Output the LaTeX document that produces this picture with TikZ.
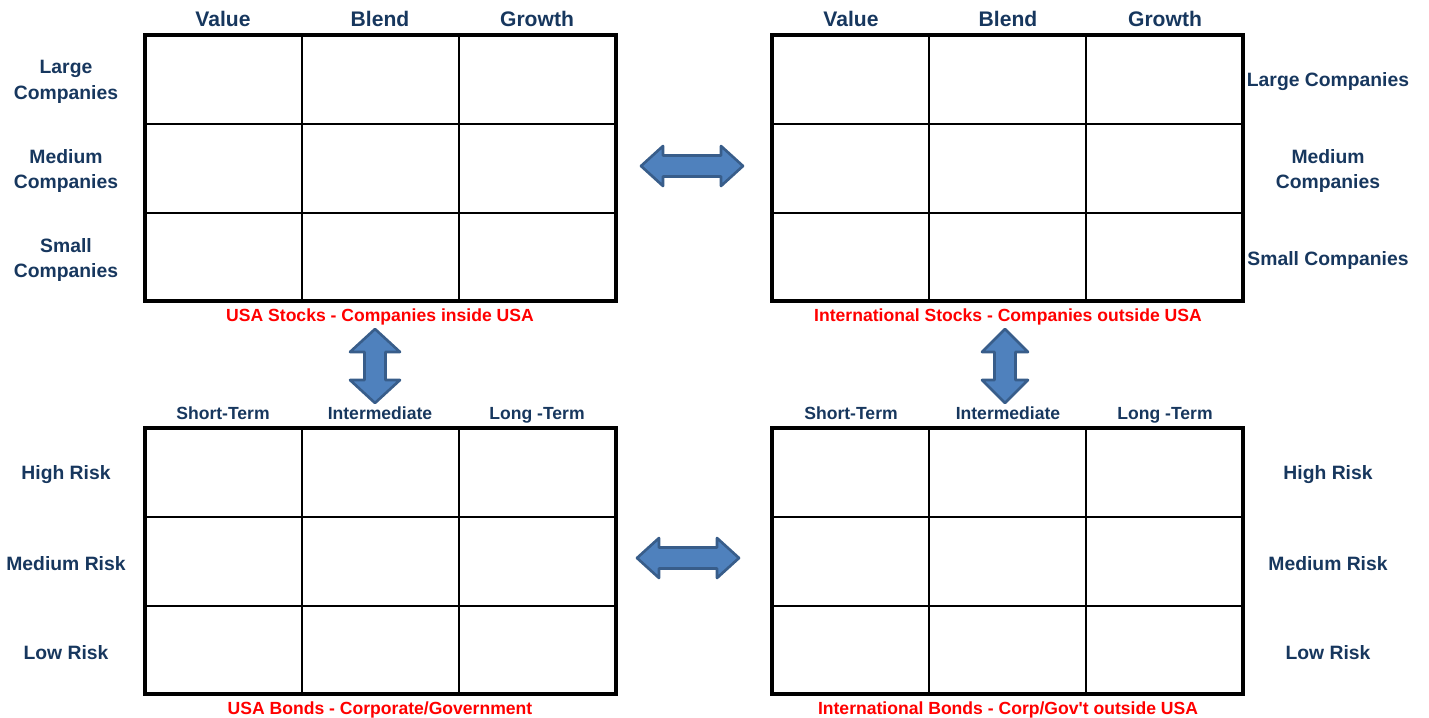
\documentclass[tikz,border=0pt]{standalone}
\usepackage{fontspec}
\setmainfont{Liberation Sans}

\definecolor{labelblue}{RGB}{23,55,94}
\definecolor{arrowfill}{RGB}{79,129,189}
\definecolor{arrowedge}{RGB}{56,93,138}

\tikzset{
	colhead/.style={font=\bfseries\fontsize{12}{14}\selectfont, text=labelblue, inner sep=0, anchor=base},
	subhead/.style={font=\bfseries\fontsize{10}{12}\selectfont, text=labelblue, inner sep=0, anchor=base},
	rowhead/.style={font=\bfseries\fontsize{11}{14.5}\selectfont, text=labelblue, align=center, inner sep=0},
	caption/.style={font=\bfseries\fontsize{10}{12}\selectfont, text=red, inner sep=0, anchor=base},
	swapbox/.style={draw=arrowedge, fill=arrowfill, line width=1.5pt, line join=round},
}

% one 3x3 box, top left corner given
\newcommand{\stylebox}[1]{
	\begin{scope}[shift={#1}]
		\draw[line width=1.2pt] (157,0) -- (157,266) (314,0) -- (314,266); % columns
		\draw[line width=1.2pt] (0,89) -- (471,89) (0,178) -- (471,178); % rows
		\draw[line width=2.2pt] (0,0) rectangle (471,266); % frame
	\end{scope}
}

% block arrows, centre given
\newcommand{\hswap}[1]{
	\draw[swapbox, shift={#1}] (-51,0) -- (-29,-20) -- (-29,-10.5) -- (29,-10.5) -- (29,-20) -- (51,0)
		-- (29,20) -- (29,10.5) -- (-29,10.5) -- (-29,20) -- cycle;
}
\newcommand{\vswap}[2]{
	\draw[swapbox, shift={#1}] (0,-37) -- (#2,-14) -- (10.5,-14) -- (10.5,14) -- (#2,14) -- (0,37)
		-- (-#2,14) -- (-10.5,14) -- (-10.5,-14) -- (-#2,-14) -- cycle;
}

\begin{document}
\begin{tikzpicture}[x=0.02cm, y=-0.02cm]

	\useasboundingbox (0,0) rectangle (1429,717);

	\stylebox{(145,35)}
	\stylebox{(772,35)}
	\stylebox{(145,428)}
	\stylebox{(772,428)}

	% usa stocks
	\node[colhead] (usval) at (223,26) {Value};
	\node[colhead] (usbld) at (380,26) {Blend};
	\node[colhead] (usgro) at (537,26) {Growth};
	\node[rowhead] (uslrg) at (66,82) {Large\\Companies};
	\node[rowhead] (usmed) at (66,171) {Medium\\Companies};
	\node[rowhead] (ussml) at (66,260) {Small\\Companies};
	\node[caption] (uscap) at (380,321) {USA Stocks - Companies inside USA};

	% international stocks
	\node[colhead] (inval) at (851,26) {Value};
	\node[colhead] (inbld) at (1008,26) {Blend};
	\node[colhead] (ingro) at (1165,26) {Growth};
	\node[rowhead] (inlrg) at (1328,82) {Large Companies};
	\node[rowhead] (inmed) at (1328,171) {Medium\\Companies};
	\node[rowhead] (insml) at (1328,260) {Small Companies};
	\node[caption] (incap) at (1008,321) {International Stocks - Companies outside USA};

	% usa bonds
	\node[subhead] (ubshr) at (223,419) {Short-Term};
	\node[subhead] (ubint) at (380,419) {Intermediate};
	\node[subhead] (ublng) at (537,419) {Long -Term};
	\node[rowhead] (ubhi) at (66,475) {High Risk};
	\node[rowhead] (ubmed) at (66,564) {Medium Risk};
	\node[rowhead] (ublo) at (66,653) {Low Risk};
	\node[caption] (ubcap) at (380,714) {USA Bonds - Corporate/Government};

	% international bonds
	\node[subhead] (ibshr) at (851,419) {Short-Term};
	\node[subhead] (ibint) at (1008,419) {Intermediate};
	\node[subhead] (iblng) at (1165,419) {Long -Term};
	\node[rowhead] (ibhi) at (1328,475) {High Risk};
	\node[rowhead] (ibmed) at (1328,564) {Medium Risk};
	\node[rowhead] (iblo) at (1328,653) {Low Risk};
	\node[caption] (ibcap) at (1008,714) {International Bonds - Corp/Gov\textquotesingle t outside USA};

	% swap arrows
	\hswap{(692,166)}
	\hswap{(688,558)}
	\vswap{(375,366)}{25}
	\vswap{(1005,366)}{23}

\end{tikzpicture}
\end{document}
